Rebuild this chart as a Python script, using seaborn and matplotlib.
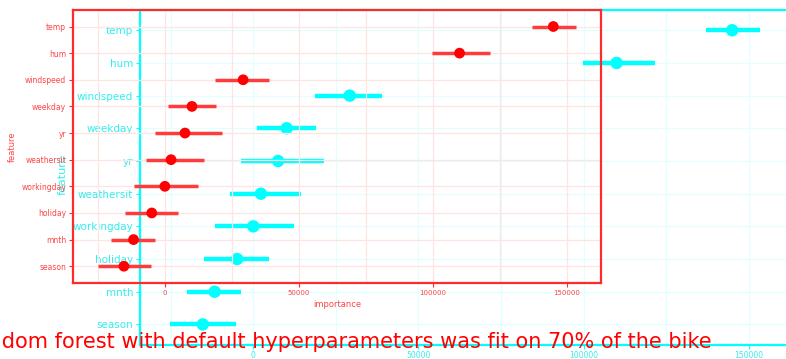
import numpy as np
import pandas as pd
import matplotlib
matplotlib.use("Agg")
import matplotlib.pyplot as plt
import seaborn as sns
from matplotlib.ticker import MultipleLocator, FixedLocator

features = ["temp", "hum", "windspeed", "weekday", "yr", "weathersit",
            "workingday", "holiday", "mnth", "season"]
importance = [145000, 110000, 29200, 10100, 7500, 2300, 0, -4900, -11700, -15300]
lower = [137000, 99700, 18800, 1200, -3700, -7100, -11700, -15000, -20000, -25100]
upper = [153500, 121500, 39000, 18900, 21300, 14500, 12300, 4800, -3800, -5200]
x_ticks = [0, 50000, 100000, 150000]
x_tick_labels = ["0", "50000", "100000", "150000"]
title = "Random forest with default hyperparameters was fit on 70% of the bike"

df = pd.DataFrame({"feature": features, "importance": importance,
                   "lower": lower, "upper": upper})
df["pos"] = np.arange(len(df))

sns.set_theme(style="white")
plt.rcParams["font.family"] = ["DejaVu Sans"]

W, H = 786, 359
fig = plt.figure(figsize=(W / 100, H / 100), dpi=100)
fig.patch.set_facecolor("white")


def panel(rect, main, line_c, grid_c, frame_c, text_c, tick_fs, xtick_fs, lab_fs, lw, ms, z):
    ax = fig.add_axes(rect, zorder=z)
    ax.set_facecolor("none")
    ax.hlines(df["pos"], df["lower"], df["upper"], color=line_c, lw=lw, zorder=3)
    sns.scatterplot(data=df, x="importance", y="pos", color=main, s=ms,
                    edgecolor="none", linewidth=0, ax=ax, zorder=4, legend=False)
    ax.set_xlim(-34300, 162800)
    ax.set_ylim(9.63, -0.62)
    ax.xaxis.set_major_locator(FixedLocator(x_ticks))
    ax.set_xticklabels(x_tick_labels)
    ax.xaxis.set_minor_locator(MultipleLocator(25000))
    ax.set_yticks(df["pos"])
    ax.set_yticklabels(features)
    ax.grid(True, which="major", color=grid_c, lw=0.9, zorder=0)
    ax.grid(True, which="minor", axis="x", color=grid_c, lw=0.9, zorder=0)
    ax.set_axisbelow(True)
    for s in ax.spines.values():
        s.set_color(frame_c)
        s.set_linewidth(1.6)
    ax.tick_params(axis="both", which="major", colors=frame_c, length=3, width=0.8,
                   left=True, bottom=True, pad=2)
    ax.tick_params(axis="both", which="minor", length=0)
    for t in ax.get_yticklabels():
        t.set_color(text_c)
        t.set_fontsize(tick_fs)
    for t in ax.get_xticklabels():
        t.set_color(text_c)
        t.set_fontsize(xtick_fs)
    ax.set_xlabel("importance", color=text_c, fontsize=lab_fs, labelpad=3)
    ax.set_ylabel("feature", color=text_c, fontsize=lab_fs, labelpad=3)
    return ax


# cyan panel (larger, partly outside the canvas)
cy = panel([140 / W, (H - 345) / H, (791 - 140) / W, (345 - 10) / H],
           "#00ffff", "#00ffff", "#e0ffff", "#00ffff", "#33eeee",
           7.5, 5.5, 8, 3.2, 80, 1)
cy.tick_params(axis="x", pad=1)
cy.yaxis.label.set_position((0, (H - 175 - (H - 345)) / 335))

# red panel
rd = panel([73 / W, (H - 283) / H, (601 - 73) / W, (283 - 10) / H],
           "#ff0000", "#ff3b3b", "#ffe4e4", "#ff2b2b", "#ff4444",
           5.5, 5, 6, 2.5, 60, 2)

fig.text(712 / W, (H - 342) / H, title, ha="right", va="center", fontsize=15,
         color="#ff0000", zorder=5)

fig.savefig("out.png", dpi=100, facecolor="white")
